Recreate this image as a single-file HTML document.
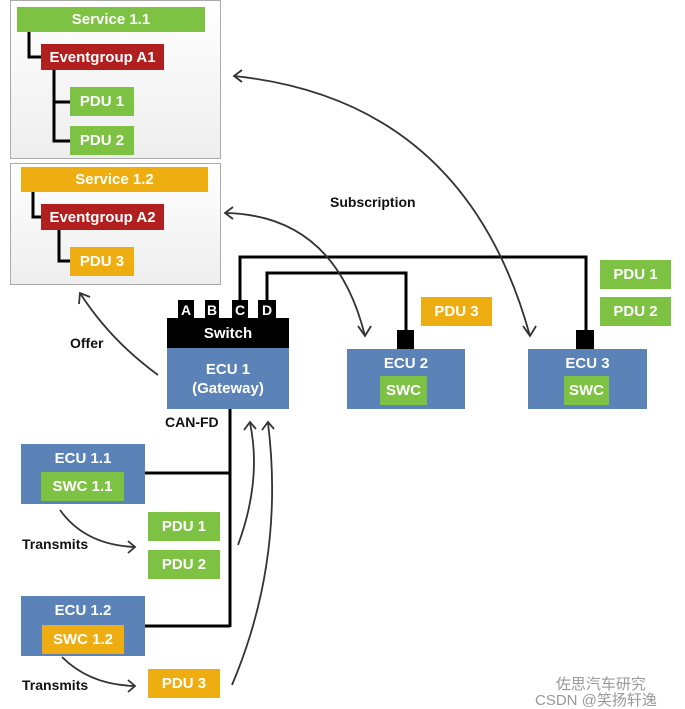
<!DOCTYPE html>
<html><head><meta charset="utf-8"><style>
body{margin:0;width:685px;height:709px;background:#fff;position:relative;overflow:hidden;font-family:"Liberation Sans",sans-serif;}
.b{position:absolute;color:#fff;font-weight:bold;font-size:15px;display:flex;align-items:center;justify-content:center;box-sizing:border-box;text-align:center;}
.g{background:#7dc243}.r{background:#b21f1f}.y{background:#eeae12}.bl{background:#5b83b8}.k{background:#000}
.t{position:absolute;font-weight:bold;font-size:14px;color:#111;}
.p{position:absolute;border:1px solid #aaa;background:linear-gradient(#fff,#eee);box-sizing:border-box;}
</style></head><body>
<div class="p" style="left:10px;top:0;width:211px;height:159px"></div>
<div class="p" style="left:10px;top:163px;width:211px;height:122px"></div>
<svg width="685" height="709" style="position:absolute;left:0;top:0" fill="none">
<g stroke="#000" stroke-width="3">
<path d="M29 32V57H42M54 70V141H71M54 102H71"/>
<path d="M33 192V217H42M59 230V261H71"/>
<path d="M240 301V257H586V331M267 301V273H406V331"/>
<path d="M230 409V627M145 473H230M145 626H230"/>
</g>
<g stroke="#333" stroke-width="1.8">
<path d="M234 76Q465 100 530 336"/><path d="M242 70L234 76L242 82M523 326L530 336L536 326"/>
<path d="M225 213Q335 215 365 336"/><path d="M233 207L225 213L233 219M358 326L365 336L371 326"/>
<path d="M158 375Q110 340 80 293"/><path d="M79 304L80 293L90 297"/>
<path d="M238 545Q262 480 250 423"/><path d="M244 430L250 422L256 429"/>
<path d="M232 685Q285 560 268 423"/><path d="M262 430L268 422L274 429"/>
<path d="M60 510Q85 545 135 547"/><path d="M128 541L135 547L128 553"/>
<path d="M62 657Q90 685 135 686"/><path d="M128 680L135 686L128 692"/>
</g></svg>
<div class="b g" style="left:17px;top:7px;width:188px;height:25px">Service 1.1</div>
<div class="b r" style="left:41px;top:44px;width:123px;height:26px">Eventgroup A1</div>
<div class="b g" style="left:70px;top:87px;width:64px;height:29px">PDU 1</div>
<div class="b g" style="left:70px;top:126px;width:64px;height:29px">PDU 2</div>
<div class="b y" style="left:21px;top:167px;width:187px;height:25px">Service 1.2</div>
<div class="b r" style="left:41px;top:204px;width:123px;height:26px">Eventgroup A2</div>
<div class="b y" style="left:70px;top:247px;width:64px;height:29px">PDU 3</div>
<div class="b k" style="left:178px;top:300px;width:16px;height:19px;font-size:14px">A</div>
<div class="b k" style="left:205px;top:300px;width:14px;height:19px;font-size:14px">B</div>
<div class="b k" style="left:232px;top:300px;width:16px;height:19px;font-size:14px">C</div>
<div class="b k" style="left:258px;top:300px;width:18px;height:19px;font-size:14px">D</div>
<div class="b k" style="left:167px;top:318px;width:122px;height:31px">Switch</div>
<div class="b bl" style="left:167px;top:348px;width:122px;height:61px;line-height:19px">ECU 1<br>(Gateway)</div>
<div class="b k" style="left:397px;top:330px;width:17px;height:20px"></div>
<div class="b k" style="left:576px;top:330px;width:18px;height:20px"></div>
<div class="b bl" style="left:347px;top:349px;width:118px;height:60px;align-items:flex-start;padding-top:6px">ECU 2</div>
<div class="b g" style="left:380px;top:376px;width:47px;height:29px">SWC</div>
<div class="b bl" style="left:528px;top:349px;width:119px;height:60px;align-items:flex-start;padding-top:6px">ECU 3</div>
<div class="b g" style="left:564px;top:376px;width:45px;height:29px">SWC</div>
<div class="b y" style="left:421px;top:297px;width:71px;height:29px">PDU 3</div>
<div class="b g" style="left:600px;top:260px;width:71px;height:29px">PDU 1</div>
<div class="b g" style="left:600px;top:297px;width:71px;height:29px">PDU 2</div>
<div class="b bl" style="left:21px;top:444px;width:124px;height:60px;align-items:flex-start;padding-top:6px">ECU 1.1</div>
<div class="b g" style="left:41px;top:472px;width:83px;height:29px">SWC 1.1</div>
<div class="b bl" style="left:21px;top:596px;width:124px;height:60px;align-items:flex-start;padding-top:6px">ECU 1.2</div>
<div class="b y" style="left:42px;top:625px;width:82px;height:29px">SWC 1.2</div>
<div class="b g" style="left:148px;top:512px;width:72px;height:29px">PDU 1</div>
<div class="b g" style="left:148px;top:550px;width:72px;height:29px">PDU 2</div>
<div class="b y" style="left:148px;top:669px;width:72px;height:29px">PDU 3</div>
<div class="t" style="left:330px;top:194px">Subscription</div>
<div class="t" style="left:70px;top:335px">Offer</div>
<div class="t" style="left:165px;top:414px">CAN-FD</div>
<div class="t" style="left:22px;top:536px">Transmits</div>
<div class="t" style="left:22px;top:677px">Transmits</div>
<div style="position:absolute;left:535px;top:677px;color:#999;font-size:15px;font-family:'Liberation Sans','Noto Sans CJK SC',sans-serif;line-height:16px">&nbsp;&nbsp;&nbsp;&nbsp;&nbsp;佐思汽车研究<br>CSDN @笑扬轩逸</div>
</body></html>
